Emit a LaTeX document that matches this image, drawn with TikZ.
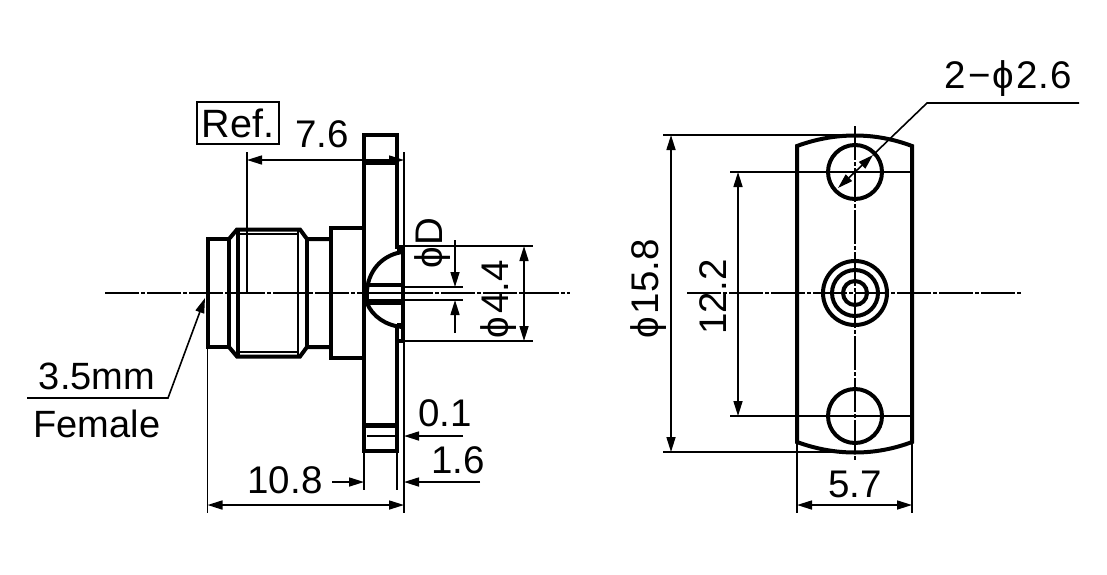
\documentclass[tikz,border=0pt]{standalone}
\usepackage{fontspec}
\usepackage{tikz}
\setmainfont{Liberation Sans}
\tikzset{
	dimtext/.style={inner sep=0pt, anchor=base, font=\fontsize{38.5}{38.5}\selectfont},
	notetext/.style={inner sep=0pt, anchor=base, font=\fontsize{38}{38}\selectfont},
	thinline/.style={line width=1.6pt},
	outline/.style={line width=4pt, line join=miter},
	centerline/.style={line width=1.6pt, dash pattern=on 34pt off 2pt on 4pt off 2pt},
	dimline/.style={line width=1.6pt, {Triangle[length=15pt,width=9pt]}-{Triangle[length=15pt,width=9pt]}},
	dimarrow/.style={line width=1.6pt, -{Triangle[length=15pt,width=9pt]}}
}
\usetikzlibrary{arrows.meta}
\begin{document}
\begin{tikzpicture}[x=1pt, y=-1pt]
	\useasboundingbox (0,0) rectangle (1107,574);
	\fill [white] (0,0) rectangle (1107,574);

	% side view
	\draw [centerline] (105,293) -- (570,293);
	\draw [outline] (207.5,239) rectangle (229,347);
	\draw [outline] (229,239) -- (237,229.5) -- (300,229.5) -- (307,239) -- (330,239);
	\draw [outline] (229,347) -- (237,356.5) -- (300,356.5) -- (307,347) -- (330,347);
	\draw [outline] (238,230) -- (238,356);
	\draw [line width=2.5pt] (298,230) -- (298,356);
	\draw [outline] (307,239) -- (307,347);
	\draw [thinline] (238,234) -- (298,234);
	\draw [thinline] (238,352) -- (298,352);
	\draw [outline] (364,228) -- (330.5,228) -- (330.5,358) -- (364,358);
	\draw [outline] (364,135) rectangle (397,451);
	\draw [line width=5pt] (364,162) -- (397,162);
	\draw [line width=5pt] (364,425) -- (397,425);
	% dome and pin
	\fill [white] (366,248.5) rectangle (401,339);
	\draw [outline] (397,246.5) -- (403,246.5) -- (403,341) -- (397,341);
	\draw [outline] (364,240) -- (364,346);
	\draw [outline] (397,327) -- (397,341);
	\draw [outline] (403,252) .. controls (385,254) and (369,268) .. (367,290);
	\draw [outline] (367,303) .. controls (372,316) and (386,326) .. (403,327);
	\draw [line width=5pt] (397,250) -- (403,250);
	\draw [line width=5pt] (397,325) -- (403,325);
	\draw [line width=4.5pt] (366,285) -- (403,285);
	\draw [line width=5.5pt] (366,302) -- (403,302);
	\draw [line width=4pt] (367,284) -- (367,304);
	\draw [thinline] (366,293) -- (405,293);

	% side view dimensions
	\draw [thinline] (247,152) -- (247,293);
	\draw [thinline] (404,152) -- (404,246);
	\draw [thinline] (404,341) -- (404,513);
	\draw [thinline] (207.5,347) -- (207.5,513);
	\draw [thinline] (364,451) -- (364,490);
	\draw [thinline] (397,451) -- (397,490);
	\draw [dimline] (247,160) -- (404,160);
	\draw [dimline] (207.5,505) -- (404,505);
	\draw [thinline] (404,246) -- (533,246);
	\draw [thinline] (404,341) -- (533,341);
	\draw [dimline] (524,246) -- (524,341);
	\draw [thinline] (404,287) -- (463,287);
	\draw [thinline] (404,300) -- (463,300);
	\draw [dimarrow] (455,240) -- (455,287);
	\draw [dimarrow] (455,333) -- (455,300);
	\draw [dimarrow] (463,436) -- (404,436);
	\draw [thinline] (367,436) -- (397,436);
	\draw [dimarrow] (332,482) -- (364,482);
	\draw [dimarrow] (480,482) -- (404,482);
	\draw [dimarrow] (27,398) -- (168,398) -- (205,298);

	\node [draw, thinline, minimum width=82pt, minimum height=42pt, inner sep=0pt, font=\fontsize{39.5}{39.5}\selectfont] (ref) at (238,123) {Ref.};
	\node [dimtext] (len) at (322,147) {7.6};
	\node [dimtext, rotate=90] (dpin) at (442,243) {ϕ\kern1ptD};
	\node [dimtext, rotate=90] (dbody) at (508,299) {ϕ\kern3pt4.4};
	\node [notetext] (jack) at (97,389) {3.5mm};
	\node [notetext] (gender) at (97,437) {Female};
	\node [dimtext] (gap) at (445,426) {0.1};
	\node [dimtext] (thick) at (458,473) {1.6};
	\node [dimtext] (total) at (285,493) {10.8};

	% front view
	\draw [outline] (797,442) -- (797,146) .. controls (835,132) and (875,132) .. (912,146) -- (912,442) .. controls (875,456) and (835,456) .. (797,442) -- cycle;
	\foreach \r in {27} {
		\draw [outline] (855,172) circle (\r);
		\draw [outline] (855,416) circle (\r);
	}
	\foreach \r in {32,23,12} {
		\draw [outline] (855,293) circle (\r);
	}
	\draw [centerline] (855,126) -- (855,461);
	\draw [centerline] (687,293) -- (1022,293);
	\draw [thinline] (730,172) -- (910,172);
	\draw [thinline] (730,416) -- (910,416);
	\draw [thinline] (663,135) -- (855,135);
	\draw [thinline] (663,452) -- (855,452);
	\draw [thinline] (797,442) -- (797,513);
	\draw [thinline] (912,442) -- (912,513);
	\draw [dimline] (671,135) -- (671,452);
	\draw [dimline] (738,172) -- (738,416);
	\draw [dimline] (797,505) -- (912,505);
	\draw [dimline] (838,188) -- (873,155);
	\draw [thinline] (873,155) -- (927,103) -- (1079,103);

	\node [dimtext] (holes) at (1008,88) {2\kern3pt−\kern2ptϕ\kern2pt2\kern1pt.\kern1pt6};
	\node [dimtext, rotate=90] (dflange) at (658,289) {ϕ\kern3pt15.8};
	\node [dimtext, rotate=90] (pitch) at (726,297) {12.2};
	\node [dimtext] (width) at (855,497) {5.7};
\end{tikzpicture}
\end{document}
